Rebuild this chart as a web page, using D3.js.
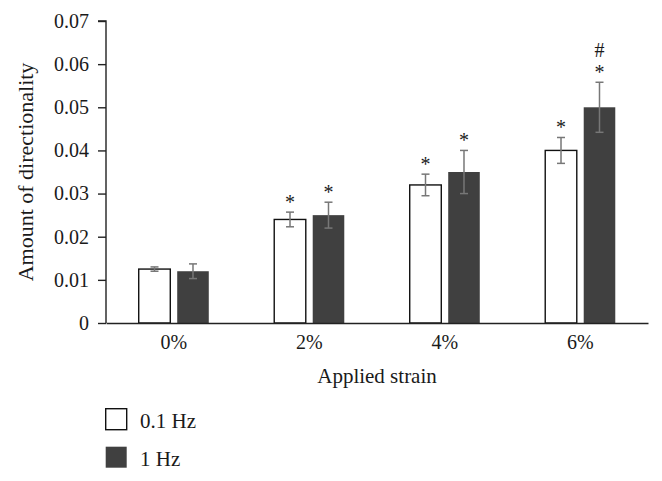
<!DOCTYPE html>
<html>
<head>
<meta charset="utf-8">
<script src="https://cdn.jsdelivr.net/npm/d3@7"></script>
<style>
  body { margin: 0; background: #fff; }
  svg text { font-family: "Liberation Serif", "DejaVu Serif", serif; fill: #1a1a1a; }
</style>
</head>
<body>
<div id="chart"></div>
<script>
const categories = ["0%", "2%", "4%", "6%"];
const seriesNames = ["0.1 Hz", "1 Hz"];
const lowFreq = [0.0125, 0.024, 0.032, 0.040];
const lowErr = [0.0005, 0.0017, 0.0025, 0.003];
const highFreq = [0.012, 0.025, 0.035, 0.050];
const highErr = [0.0017, 0.003, 0.005, 0.0058];
const lowMarks = ["", "*", "*", "*"];
const highMarks = ["", "*", "*", "*\n#"];
const yTicks = [0, 0.01, 0.02, 0.03, 0.04, 0.05, 0.06, 0.07];

const W = 662, H = 481;
const margin = { top: 21, right: 14, bottom: 158, left: 106 };
const innerW = W - margin.left - margin.right;
const innerH = H - margin.top - margin.bottom;

const svg = d3.select("#chart").append("svg")
  .attr("width", W)
  .attr("height", H);

const g = svg.append("g")
  .attr("transform", `translate(${margin.left}, ${margin.top})`);

// scales
const x0 = d3.scaleBand().domain(categories).range([0, innerW])
  .paddingInner(0.483).paddingOuter(0.2415);
const x1 = d3.scaleBand().domain(seriesNames).range([0, x0.bandwidth()])
  .paddingInner(0.18);
const y = d3.scaleLinear().domain([0, 0.07]).range([innerH, 0]);

const colors = { "0.1 Hz": "#ffffff", "1 Hz": "#404040" };

const rows = categories.map((c, i) => ({
  cat: c,
  bars: [
    { s: "0.1 Hz", v: lowFreq[i], e: lowErr[i], m: lowMarks[i] },
    { s: "1 Hz", v: highFreq[i], e: highErr[i], m: highMarks[i] }
  ]
}));

const groups = g.selectAll(".grp").data(rows).enter().append("g")
  .attr("class", "grp")
  .attr("transform", d => `translate(${x0(d.cat)}, 0)`);

groups.selectAll("rect").data(d => d.bars).enter().append("rect")
  .attr("x", d => x1(d.s))
  .attr("y", d => y(d.v))
  .attr("width", x1.bandwidth())
  .attr("height", d => innerH - y(d.v))
  .attr("fill", d => colors[d.s])
  .attr("stroke", d => d.s === "0.1 Hz" ? "#111" : "none")
  .attr("stroke-width", 1.4);

// error bars
const errs = groups.selectAll(".err").data(d => d.bars).enter().append("g")
  .attr("class", "err")
  .attr("stroke", "#777")
  .attr("stroke-width", 1.5);
errs.append("line")
  .attr("x1", d => x1(d.s) + x1.bandwidth() / 2)
  .attr("x2", d => x1(d.s) + x1.bandwidth() / 2)
  .attr("y1", d => y(d.v - d.e))
  .attr("y2", d => y(d.v + d.e));
[1, -1].forEach(sign => {
  errs.append("line")
    .attr("x1", d => x1(d.s) + x1.bandwidth() / 2 - 4)
    .attr("x2", d => x1(d.s) + x1.bandwidth() / 2 + 4)
    .attr("y1", d => y(d.v + sign * d.e))
    .attr("y2", d => y(d.v + sign * d.e));
});

// significance marks
groups.selectAll(".mark").data(d => d.bars.filter(b => b.m)).enter().append("text")
  .attr("class", "mark")
  .attr("text-anchor", "middle")
  .style("font-size", "20px")
  .each(function(d) {
    const lines = d.m.split("\n");
    const cx = x1(d.s) + x1.bandwidth() / 2;
    const top = y(d.v + d.e);
    lines.forEach((t, k) => {
      d3.select(this).append("tspan")
        .attr("x", cx)
        .attr("y", t === "*" ? top - 3 - k * 18 : top - 8 - k * 17)
        .text(t);
    });
  });

// axes
const yAxis = d3.axisLeft(y).tickValues(yTicks).tickSize(8).tickPadding(9)
  .tickFormat(d => d === 0 ? "0" : d.toFixed(2));
const yg = g.append("g").call(yAxis);
yg.select(".domain").attr("stroke", "#222").attr("stroke-width", 1.4).attr("d", `M-8,0H0V${innerH}`);
yg.selectAll(".tick line").attr("stroke", "#222").attr("stroke-width", 1.4);
yg.selectAll("text").style("font-size", "20px").attr("fill", "#1a1a1a");

const xAxis = d3.axisBottom(x0).tickSize(0).tickPadding(12);
const xg = g.append("g").attr("transform", `translate(0, ${innerH})`).call(xAxis);
xg.select(".domain").attr("stroke", "#222").attr("stroke-width", 1.4);
xg.selectAll("text").style("font-size", "20px").attr("fill", "#1a1a1a");

// axis titles
svg.append("text")
  .attr("x", margin.left + innerW / 2)
  .attr("y", 383)
  .attr("text-anchor", "middle")
  .style("font-size", "21px")
  .text("Applied strain");

svg.append("text")
  .attr("transform", "translate(33, 172) rotate(-90)")
  .attr("text-anchor", "middle")
  .style("font-size", "22px")
  .text("Amount of directionality");

// legend
const legend = svg.append("g").attr("transform", "translate(105, 408)");
seriesNames.forEach((s, i) => {
  const row = legend.append("g").attr("transform", `translate(0, ${i * 38})`);
  row.append("rect")
    .attr("x", 0.7).attr("y", 0.7)
    .attr("width", 21).attr("height", 21)
    .attr("fill", colors[s])
    .attr("stroke", s === "0.1 Hz" ? "#111" : "none")
    .attr("stroke-width", 1.4);
  row.append("text")
    .attr("x", 35).attr("y", 20)
    .style("font-size", "21px")
    .text(s);
});
</script>
</body>
</html>
